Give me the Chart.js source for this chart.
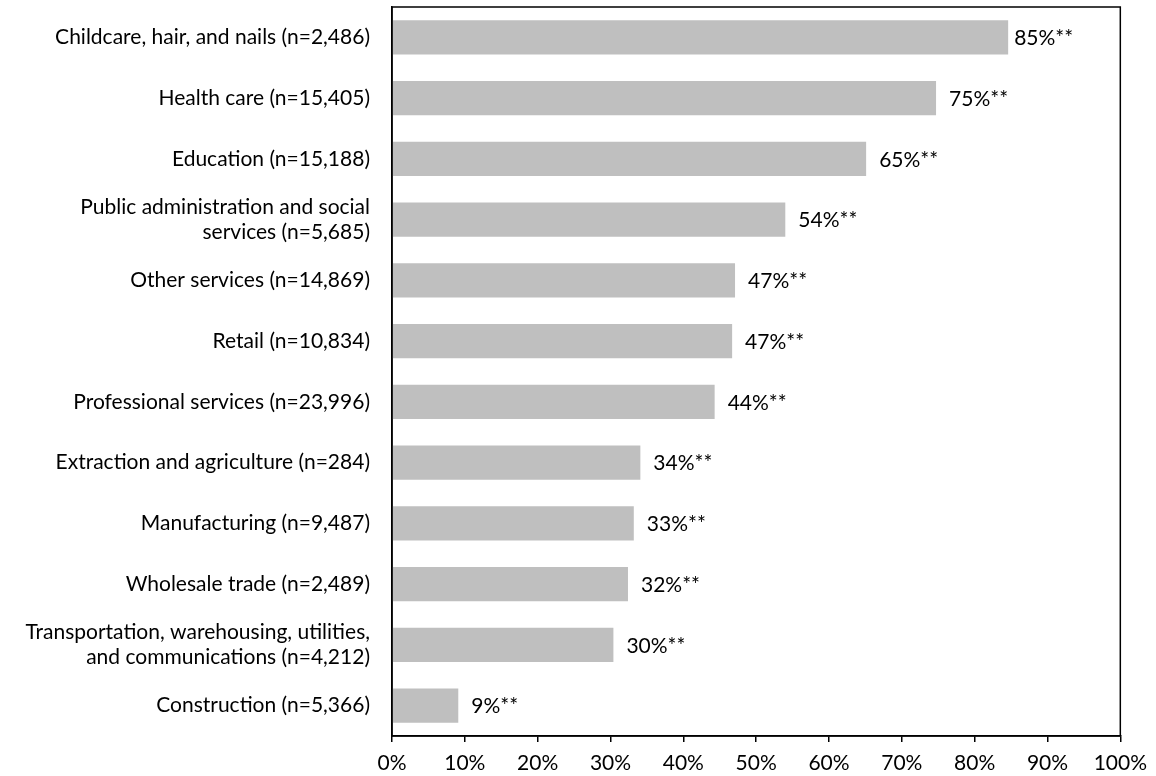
<!DOCTYPE html>
<html>
<head>
<meta charset="utf-8">
<script src="https://cdn.jsdelivr.net/npm/chart.js@4"></script>
<style>
  html, body { margin: 0; padding: 0; background: #fff; }
  #wrap { width: 1156px; height: 776px; }
</style>
</head>
<body>
<div id="wrap"><canvas id="myChart" width="1156" height="776"></canvas></div>
<script>
// categories (top to bottom), bar values and printed labels
const categories = [
  "Childcare, hair, and nails (n=2,486)",
  "Health care (n=15,405)",
  "Education (n=15,188)",
  ["Public administration and social", "services (n=5,685)"],
  "Other services (n=14,869)",
  "Retail (n=10,834)",
  "Professional services (n=23,996)",
  "Extraction and agriculture (n=284)",
  "Manufacturing (n=9,487)",
  "Wholesale trade (n=2,489)",
  ["Transportation, warehousing, utilities,", "and communications (n=4,212)"],
  "Construction (n=5,366)"
];
const values = [84.6, 74.7, 65.1, 54.0, 47.1, 46.7, 44.3, 34.1, 33.2, 32.4, 30.4, 9.1];
const valueLabels = ["85%**", "75%**", "65%**", "54%**", "47%**", "47%**", "44%**", "34%**", "33%**", "32%**", "30%**", "9%**"];
const xTicks = [0, 10, 20, 30, 40, 50, 60, 70, 80, 90, 100];

const FONT = "Lato, 'Noto Sans', sans-serif";
const FS = 21;

// white background + box round the plot area
const framePlugin = {
    id: 'frame',
    beforeDraw: (chart) => {
        const ctx = chart.ctx;
        ctx.save();
        ctx.fillStyle = 'white';
        ctx.fillRect(0, 0, chart.width, chart.height);
        ctx.restore();
    },
    afterDraw: (chart) => {
        const a = chart.chartArea;
        const ctx = chart.ctx;
        ctx.save();
        ctx.strokeStyle = '#000';
        ctx.lineWidth = 1.5;
        ctx.strokeRect(a.left, a.top, a.right - a.left, a.bottom - a.top);
        ctx.restore();
    }
};

// value labels to the right of each bar
const labelPlugin = {
    id: 'valueLabels',
    afterDatasetsDraw: (chart) => {
        const ctx = chart.ctx;
        const meta = chart.getDatasetMeta(0);
        ctx.save();
        ctx.font = FS + "px " + FONT;
        ctx.fillStyle = '#000';
        ctx.textBaseline = 'middle';
        ctx.textAlign = 'left';
        meta.data.forEach((bar, i) => {
            const gap = i === 0 ? 6 : 13;
            ctx.fillText(valueLabels[i], bar.x + gap, bar.y + 1);
        });
        ctx.restore();
    }
};

const ctx = document.getElementById("myChart").getContext("2d");

new Chart(ctx, {
    type: 'bar',
    plugins: [framePlugin, labelPlugin],
    data: {
        labels: categories,
        datasets: [{
            data: values,
            backgroundColor: '#bfbfbf',
            borderWidth: 0,
            barPercentage: 0.56,
            categoryPercentage: 1.0
        }]
    },
    options: {
        indexAxis: 'y',
        responsive: false,
        animation: false,
        layout: { padding: { top: 7, right: 33, bottom: 0, left: 0 } },
        plugins: {
            legend: { display: false },
            tooltip: { enabled: false }
        },
        scales: {
            x: {
                min: 0,
                max: 100,
                afterBuildTicks: (scale) => {
                    scale.ticks = xTicks.map(v => ({ value: v }));
                },
                afterFit: (scale) => { scale.height = 40; },
                grid: {
                    drawOnChartArea: false,
                    drawTicks: true,
                    tickLength: 6,
                    color: '#000',
                    lineWidth: 1.5
                },
                border: { display: true, color: '#000', width: 1.5 },
                ticks: {
                    color: '#000',
                    padding: 9,
                    maxRotation: 0,
                    font: { family: FONT, size: FS },
                    callback: (v) => v + '%'
                }
            },
            y: {
                afterFit: (scale) => {
                    scale.width = 392;
                    scale.paddingTop = 0;
                    scale.paddingBottom = 0;
                },
                grid: { display: false, drawTicks: false },
                border: { display: true, color: '#000', width: 1.5 },
                ticks: {
                    color: '#000',
                    padding: 22,
                    autoSkip: false,
                    font: { family: FONT, size: FS, lineHeight: 1.22 }
                }
            }
        }
    }
});
</script>
</body>
</html>
